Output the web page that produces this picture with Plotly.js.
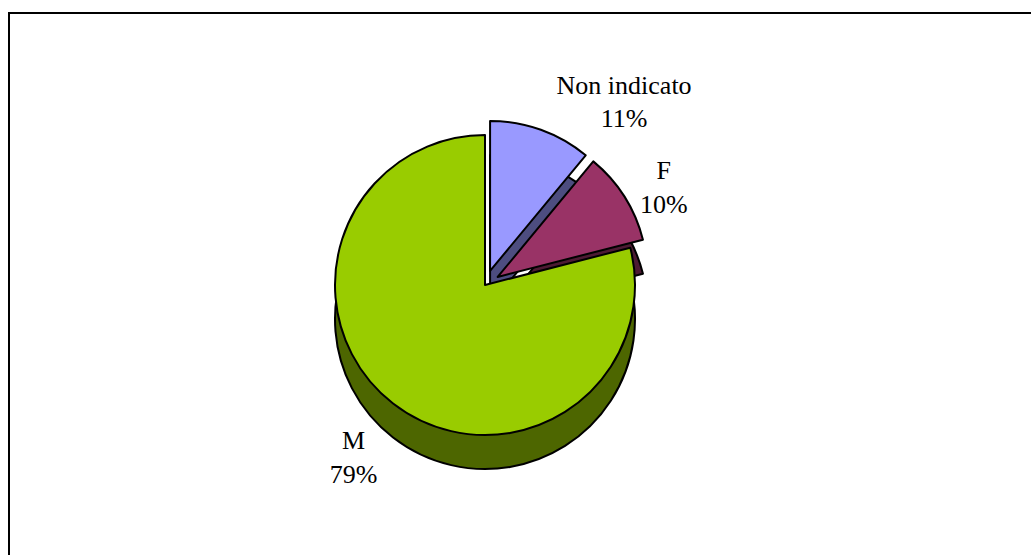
<!DOCTYPE html>
<html>
<head>
<meta charset="utf-8">
<script src="https://cdn.plot.ly/plotly-3.0.1.min.js"></script>
<style>
  html, body { margin: 0; padding: 0; background: #ffffff; }
  #chart { width: 1031px; height: 555px; }
</style>
</head>
<body>
<div id="chart"></div>
<script>
// ---- data ----
const categories = ['Non indicato', 'F', 'M'];
const values = [11, 10, 79];
const topColors = ['#9999FF', '#993366', '#99CC00'];
const sideColors = ['#4D4D80', '#4D1A33', '#4D6600'];
const pulls = [0.1, 0.1, 0];

// ---- layout helpers (pixels -> paper) ----
const W = 1031, H = 555;
function dom(cx, cy, half) {
  return {
    x: [(cx - half) / W, (cx + half) / W],
    y: [1 - (cy + half) / H, 1 - (cy - half) / H]
  };
}
const R = 150, half = R * 1.1;
const cx = 485, cyTop = 285, depth = 34;
const FONT = { family: '"Liberation Serif", "Times New Roman", serif', size: 26, color: '#000000' };
const lbl = '%{label}<br>%{percent}';

// lower pie = the side (depth) of the 3-D disc; carries the label of the big slice
const sidePie = {
  type: 'pie',
  labels: categories,
  values: values,
  sort: false,
  direction: 'clockwise',
  rotation: 0,
  pull: pulls,
  domain: dom(cx, cyTop + depth, half),
  marker: { colors: sideColors, line: { color: '#000000', width: 2 } },
  texttemplate: categories.map(function (c, i) { return i === 2 ? lbl : ''; }),
  textposition: 'outside',
  outsidetextfont: FONT,
  hoverinfo: 'skip',
  showlegend: false
};

// upper pie = the top face
const topPie = {
  type: 'pie',
  labels: categories,
  values: values,
  sort: false,
  direction: 'clockwise',
  rotation: 0,
  pull: pulls,
  domain: dom(cx, cyTop, half),
  marker: { colors: topColors, line: { color: '#000000', width: 2 } },
  texttemplate: categories.map(function (c, i) { return i === 2 ? '' : lbl; }),
  textposition: 'outside',
  outsidetextfont: FONT,
  showlegend: false
};

const layout = {
  width: W,
  height: H,
  margin: { l: 0, r: 0, t: 0, b: 0 },
  paper_bgcolor: '#ffffff',
  plot_bgcolor: '#ffffff',
  font: FONT,
  showlegend: false,
  shapes: [{
    type: 'rect', xref: 'paper', yref: 'paper',
    x0: 9 / W, x1: 1.02, y0: -0.02, y1: 1 - 13 / H,
    line: { color: '#000000', width: 2 }, fillcolor: 'rgba(0,0,0,0)'
  }]
};

Plotly.newPlot('chart', [sidePie, topPie], layout, { displayModeBar: false, staticPlot: true });
</script>
</body>
</html>
